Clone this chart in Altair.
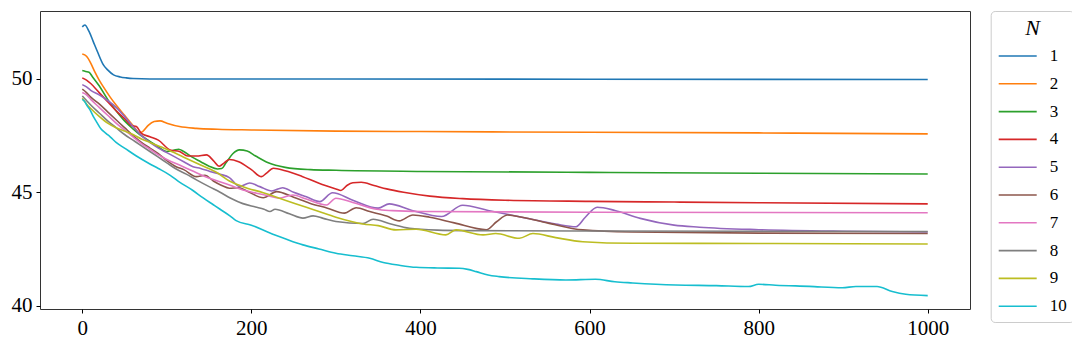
import altair as alt
import pandas as pd

t1 = [0, 3, 8, 13, 18, 25, 30, 37, 45, 52, 60, 80, 150, 300, 600, 1000]
v1 = [52.3, 52.38, 52.1, 51.65, 51.2, 50.62, 50.4, 50.18, 50.09, 50.05, 50.02, 50.0, 50.0, 50.0, 49.99, 49.98]

t2 = [0, 5, 10, 15, 20, 25, 33, 40, 50, 60, 68, 72, 78, 85, 92, 100, 115, 135, 160, 200, 300, 400, 600, 800, 1000]
v2 = [51.1, 51.0, 50.7, 50.3, 49.95, 49.65, 49.2, 48.85, 48.4, 47.95, 47.62, 47.7, 47.95, 48.12, 48.15, 48.05, 47.9, 47.82, 47.78, 47.75, 47.7, 47.68, 47.65, 47.62, 47.58]

t3 = [0, 4, 8, 12, 20, 30, 40, 50, 60, 68, 80, 90, 100, 108, 114, 120, 130, 140, 150, 160, 165, 170, 178, 186, 195, 205, 220, 240, 270, 300, 400, 600, 800, 1000]
v3 = [50.37, 50.33, 50.3, 50.1, 49.7, 49.1, 48.6, 48.15, 47.8, 47.55, 47.25, 47.0, 46.8, 46.85, 46.9, 46.8, 46.55, 46.35, 46.15, 46.03, 46.05, 46.3, 46.7, 46.87, 46.82, 46.6, 46.3, 46.1, 46.0, 45.97, 45.92, 45.88, 45.84, 45.81]

t4 = [0, 5, 10, 20, 30, 40, 50, 58, 64, 70, 80, 90, 104, 115, 125, 135, 147, 155, 162, 168, 174, 185, 200, 212, 218, 226, 240, 260, 280, 300, 306, 313, 320, 330, 345, 360, 380, 411, 450, 500, 600, 700, 800, 1000]
v4 = [50.05, 49.95, 49.8, 49.4, 49.0, 48.6, 48.25, 47.95, 47.9, 47.6, 47.45, 47.3, 46.87, 46.8, 46.6, 46.6, 46.65, 46.4, 46.15, 46.3, 46.45, 46.35, 46.0, 45.69, 45.85, 46.06, 45.95, 45.7, 45.4, 45.15, 45.08, 45.3, 45.42, 45.44, 45.3, 45.15, 45.0, 44.83, 44.72, 44.65, 44.6, 44.57, 44.54, 44.49]

t5 = [0, 5, 10, 20, 30, 40, 50, 60, 70, 80, 90, 100, 110, 120, 131, 140, 151, 163, 174, 186, 198, 210, 224, 237, 250, 265, 281, 296, 320, 350, 363, 390, 425, 450, 480, 520, 560, 584, 595, 609, 630, 660, 700, 730, 800, 900, 1000]
v5 = [49.75, 49.65, 49.5, 49.3, 49.05, 48.75, 48.35, 47.9, 47.5, 47.2, 46.95, 46.75, 46.55, 46.35, 46.13, 46.05, 45.92, 45.8, 45.65, 45.25, 45.41, 45.25, 45.06, 45.2, 45.0, 44.8, 44.59, 44.98, 44.65, 44.3, 44.49, 44.2, 43.93, 44.43, 44.2, 43.9, 43.6, 43.48, 43.9, 44.34, 44.2, 43.85, 43.55, 43.46, 43.35, 43.28, 43.25]

t6 = [0, 5, 10, 20, 30, 40, 50, 60, 70, 80, 90, 100, 111, 120, 135, 145, 155, 165, 174, 185, 195, 214, 230, 250, 269, 290, 310, 324, 340, 360, 375, 391, 411, 440, 478, 490, 503, 520, 550, 592, 650, 800, 1000]
v6 = [49.55, 49.4, 49.2, 48.9, 48.55, 48.2, 47.85, 47.5, 47.2, 46.95, 46.7, 46.4, 46.13, 46.0, 45.69, 45.75, 45.5, 45.3, 45.18, 45.2, 45.05, 44.76, 45.03, 44.78, 44.52, 44.3, 44.08, 44.32, 44.15, 43.95, 43.74, 44.0, 43.9, 43.65, 43.35, 43.7, 44.0, 43.9, 43.65, 43.34, 43.25, 43.2, 43.18]

t7 = [0, 5, 10, 20, 30, 40, 50, 60, 70, 80, 90, 100, 115, 130, 145, 160, 174, 190, 206, 220, 233, 249, 265, 289, 300, 320, 348, 367, 400, 600, 1000]
v7 = [49.4, 49.3, 49.1, 48.75, 48.4, 48.05, 47.75, 47.45, 47.15, 46.9, 46.65, 46.45, 46.2, 45.95, 45.7, 45.5, 45.32, 45.1, 44.96, 44.85, 44.74, 44.88, 44.7, 44.44, 44.74, 44.55, 44.25, 44.19, 44.15, 44.12, 44.1]

t8 = [0, 5, 10, 20, 30, 40, 50, 60, 70, 80, 90, 100, 110, 123, 135, 150, 163, 175, 190, 205, 215, 222, 228, 245, 261, 273, 285, 300, 332, 344, 365, 387, 420, 454, 600, 800, 1000]
v8 = [49.25, 49.05, 48.85, 48.5, 48.15, 47.85, 47.55, 47.3, 47.05, 46.8, 46.55, 46.3, 46.05, 45.8, 45.55, 45.25, 45.0, 44.75, 44.5, 44.35, 44.25, 44.15, 44.25, 44.05, 43.86, 43.96, 43.85, 43.71, 43.62, 43.81, 43.6, 43.41, 43.33, 43.31, 43.29, 43.28, 43.27]

t9 = [0, 5, 10, 20, 30, 40, 50, 60, 70, 80, 100, 120, 140, 160, 174, 190, 214, 240, 265, 280, 300, 332, 350, 371, 395, 430, 442, 474, 489, 517, 533, 560, 592, 651, 800, 1000]
v9 = [49.15, 48.9, 48.7, 48.35, 48.05, 47.85, 47.7, 47.55, 47.35, 47.2, 46.9, 46.55, 46.2, 45.85, 45.5, 45.25, 44.98, 44.65, 44.34, 44.15, 43.9, 43.6, 43.53, 43.34, 43.37, 43.12, 43.34, 43.12, 43.18, 42.97, 43.18, 43.0, 42.82, 42.75, 42.74, 42.72]

t10 = [0, 3, 6, 9, 13, 17, 22, 28, 33, 40, 50, 64, 80, 90, 104, 115, 130, 143, 155, 163, 175, 182, 200, 222, 240, 261, 280, 300, 320, 340, 356, 375, 395, 420, 446, 456, 466, 480, 493, 533, 572, 607, 630, 651, 702, 750, 788, 800, 820, 860, 899, 915, 940, 958, 974, 1000]
v10 = [49.1, 49.0, 48.8, 48.65, 48.35, 48.1, 47.8, 47.6, 47.45, 47.2, 46.95, 46.6, 46.25, 46.05, 45.75, 45.45, 45.1, 44.75, 44.45, 44.25, 43.95, 43.75, 43.55, 43.2, 42.95, 42.68, 42.5, 42.31, 42.2, 42.09, 41.9, 41.78, 41.69, 41.66, 41.65, 41.6, 41.5, 41.35, 41.28, 41.18, 41.13, 41.16, 41.05, 41.0, 40.91, 40.88, 40.84, 40.94, 40.9, 40.85, 40.79, 40.84, 40.84, 40.62, 40.5, 40.44]

series_names = ["1", "2", "3", "4", "5", "6", "7", "8", "9", "10"]
series_t = [t1, t2, t3, t4, t5, t6, t7, t8, t9, t10]
series_v = [v1, v2, v3, v4, v5, v6, v7, v8, v9, v10]
colors = ["#1f77b4", "#ff7f0e", "#2ca02c", "#d62728", "#9467bd",
          "#8c564b", "#e377c2", "#7f7f7f", "#bcbd22", "#17becf"]

x_ticks = [0, 200, 400, 600, 800, 1000]
y_ticks = [40, 45, 50]

rows = []
for k, (name, ts, vs) in enumerate(zip(series_names, series_t, series_v)):
    for t, v in zip(ts, vs):
        rows.append({"N": name, "order": k, "step": t, "value": v})
df = pd.DataFrame(rows)

FONT = "Liberation Serif"

chart = alt.Chart(df).mark_line(strokeWidth=1.6, interpolate="monotone").encode(
    x=alt.X("step:Q", scale=alt.Scale(domain=[-50, 1050], nice=False, zero=False),
            axis=alt.Axis(values=x_ticks, format="d", title=None, grid=False, domain=False,
                          tickColor="black", tickSize=4, labelPadding=4,
                          labelFont=FONT, labelFontSize=21, labelColor="black")),
    y=alt.Y("value:Q", scale=alt.Scale(domain=[39.85, 53.0], nice=False, zero=False),
            axis=alt.Axis(values=y_ticks, format="d", title=None, grid=False, domain=False,
                          tickColor="black", tickSize=4, labelPadding=4,
                          labelFont=FONT, labelFontSize=21, labelColor="black")),
    color=alt.Color("N:N", sort=series_names,
                    scale=alt.Scale(domain=series_names, range=colors),
                    legend=alt.Legend(
                        title="N", orient="none", legendX=950.7, legendY=0,
                        symbolType="stroke", symbolSize=1444, symbolStrokeWidth=1.6,
                        clipHeight=16, rowPadding=10.8, labelOffset=12,
                        labelFont=FONT, labelFontSize=17, labelColor="black",
                        titleFont=FONT, titleFontSize=22, titleFontStyle="italic",
                        titleFontWeight="normal", titleColor="black",
                        titleAnchor="middle", titlePadding=8,
                        padding=7, strokeColor="#cccccc", fillColor="white",
                        cornerRadius=4, offset=0)),
    order=alt.Order("step:Q"),
    detail="order:O",
).properties(
    width=930, height=298,
    padding={"left": 32, "top": 3, "right": 102, "bottom": 40},
    autosize=alt.AutoSizeParams(type="none"),
).configure_view(stroke="#333333", strokeWidth=1)

chart.save("out.html", embed_options={"renderer": "svg", "actions": False})
